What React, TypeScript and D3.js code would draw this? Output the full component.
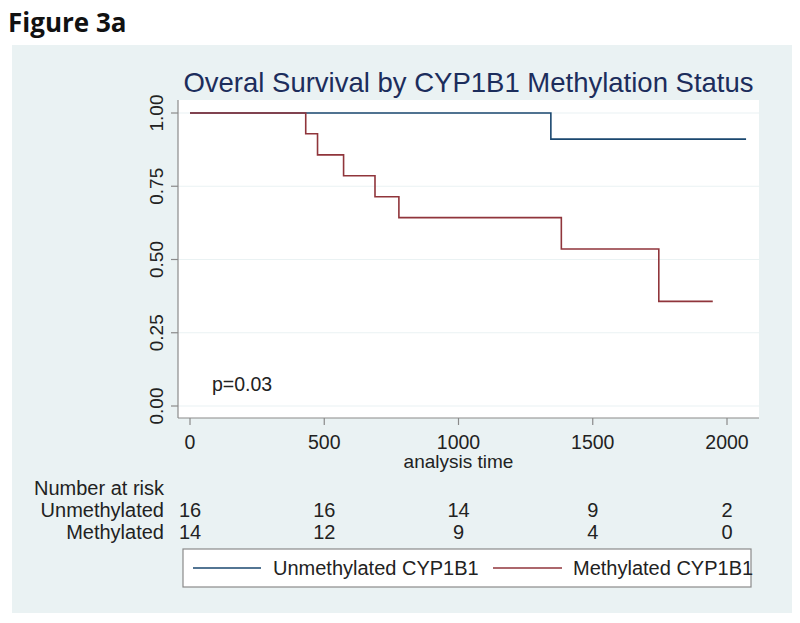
import React from "react";
import * as d3 from "d3";

// Kaplan-Meier steps
const unmethylatedTimes = [0, 1344, 2071];
const unmethylatedSurvival = [1.0, 0.911, 0.911];
const methylatedTimes = [0, 431, 475, 572, 689, 778, 1383, 1746, 1947];
const methylatedSurvival = [1.0, 0.929, 0.857, 0.786, 0.714, 0.643, 0.536, 0.357, 0.357];

const xTicks = [0, 500, 1000, 1500, 2000];
const yTicks = [0, 0.25, 0.5, 0.75, 1];
const riskGroups = ["Unmethylated", "Methylated"];
const unmethylatedAtRisk = [16, 16, 14, 9, 2];
const methylatedAtRisk = [14, 12, 9, 4, 0];
const legendLabels = ["Unmethylated CYP1B1", "Methylated CYP1B1"];

const BLUE = "#1a476f";
const RED = "#90353b";
const BG = "#eaf2f3";
const FONT = "'Liberation Sans', Arial, sans-serif";

const App = () => {
    const width = 800;
    const height = 623;

    const x = d3.scaleLinear().domain([0, 2000]).range([190, 727]);
    const y = d3.scaleLinear().domain([0, 1]).range([406, 113]);

    const line = d3.line<[number, number]>()
        .x(d => x(d[0]))
        .y(d => y(d[1]))
        .curve(d3.curveStepAfter);

    const unmeth = unmethylatedTimes.map((t, i) => [t, unmethylatedSurvival[i]] as [number, number]);
    const meth = methylatedTimes.map((t, i) => [t, methylatedSurvival[i]] as [number, number]);

    const plotLeft = 178, plotRight = 759, plotTop = 100, plotBottom = 418;
    const riskRows = [unmethylatedAtRisk, methylatedAtRisk];

    return (
        <svg width={width} height={height}
            style={{ position: "absolute", left: 0, top: 0, fontFamily: FONT }}>
            <rect x={0} y={0} width={width} height={height} fill="#ffffff" />
            <text x={8} y={32} fontFamily="'Open Sans', 'Noto Sans', sans-serif" fontWeight="bold" fontSize={26} fill="#111">Figure 3a</text>

            {/* outer graph region */}
            <rect x={12} y={45} width={780} height={568} fill={BG} />

            {/* title */}
            <text x={(plotLeft + plotRight) / 2} y={92} textAnchor="middle" fontSize={27.5} fill="#1c2d5c">
                Overal Survival by CYP1B1 Methylation Status
            </text>

            {/* plot region */}
            <rect x={plotLeft} y={plotTop} width={plotRight - plotLeft} height={plotBottom - plotTop} fill="#ffffff" />
            {yTicks.map(t => (
                <line key={"g" + t} x1={plotLeft} x2={plotRight} y1={y(t)} y2={y(t)} stroke="#eaf2f3" strokeWidth={1.2} />
            ))}

            {/* axes */}
            <line x1={plotLeft} x2={plotLeft} y1={plotTop} y2={plotBottom} stroke="#8a8a8a" strokeWidth={1.2} />
            <line x1={plotLeft} x2={plotRight} y1={plotBottom} y2={plotBottom} stroke="#8a8a8a" strokeWidth={1.2} />
            {yTicks.map(t => (
                <g key={"y" + t}>
                    <line x1={plotLeft - 7} x2={plotLeft} y1={y(t)} y2={y(t)} stroke="#8a8a8a" strokeWidth={1.2} />
                    <text transform={`translate(${163},${y(t)}) rotate(-90)`} textAnchor="middle" fontSize={19} fill="#222">
                        {t.toFixed(2)}
                    </text>
                </g>
            ))}
            {xTicks.map(t => (
                <g key={"x" + t}>
                    <line x1={x(t)} x2={x(t)} y1={plotBottom} y2={plotBottom + 7} stroke="#8a8a8a" strokeWidth={1.2} />
                    <text x={x(t)} y={449} textAnchor="middle" fontSize={19.5} fill="#222">{t}</text>
                </g>
            ))}
            <text x={x(1000)} y={468} textAnchor="middle" fontSize={19} fill="#222">analysis time</text>

            {/* survival curves */}
            <path d={line(unmeth) || ""} fill="none" stroke={BLUE} strokeWidth={1.6} />
            <path d={line(meth) || ""} fill="none" stroke={RED} strokeWidth={1.6} />

            <text x={212} y={391} fontSize={19.5} fill="#222">p=0.03</text>

            {/* number at risk table */}
            <text x={164} y={495} textAnchor="end" fontSize={20} fill="#222">Number at risk</text>
            {riskGroups.map((g, r) => (
                <g key={g}>
                    <text x={164} y={517 + r * 22} textAnchor="end" fontSize={20} fill="#222">{g}</text>
                    {riskRows[r].map((n, i) => (
                        <text key={i} x={x(xTicks[i])} y={517 + r * 22} textAnchor="middle" fontSize={20} fill="#222">{n}</text>
                    ))}
                </g>
            ))}

            {/* legend */}
            <rect x={183} y={549} width={568} height={38} fill="#ffffff" stroke="#8a8a8a" strokeWidth={1.2} />
            <line x1={193} x2={261} y1={568} y2={568} stroke={BLUE} strokeWidth={1.6} />
            <text x={273} y={575} fontSize={20} fill="#222">{legendLabels[0]}</text>
            <line x1={493} x2={562} y1={568} y2={568} stroke={RED} strokeWidth={1.6} />
            <text x={573} y={575} fontSize={20} fill="#222">{legendLabels[1]}</text>
        </svg>
    );
};

export default App;
